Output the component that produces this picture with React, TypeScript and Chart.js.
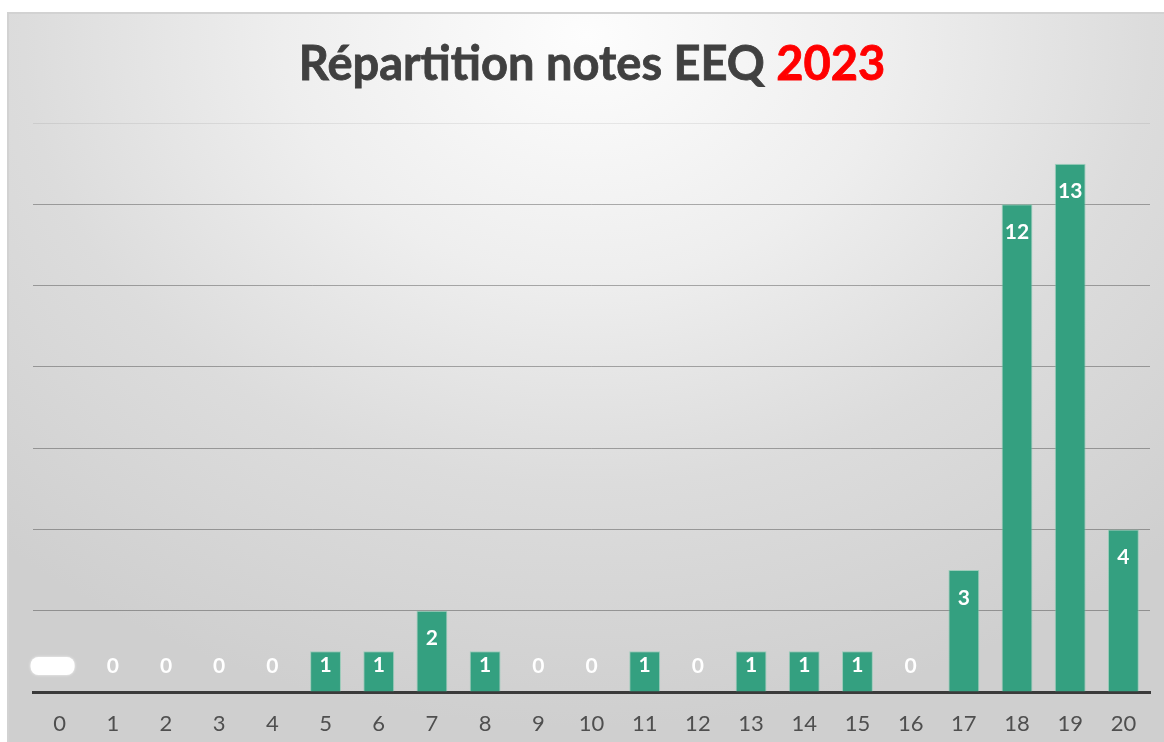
import React, { useEffect, useRef } from "react";
import { Chart, registerables } from "chart.js";

Chart.register(...registerables);

const notes: string[] = ["0","1","2","3","4","5","6","7","8","9","10","11","12","13","14","15","16","17","18","19","20"];
const effectifs: number[] = [0,0,0,0,0,1,1,2,1,0,0,1,0,1,1,1,0,3,12,13,4];
const titleMain = "Répartition notes EEQ ";
const titleYear = "2023";
const yMax = 14;
const yStep = 2;

const FONT = "Lato, 'Open Sans', sans-serif";

const titlePlugin = {
  id: "titleTwoColor",
  afterDraw(chart: any) {
    const ctx = chart.ctx;
    ctx.save();
    ctx.font = `bold 47px ${FONT}`;
    ctx.textBaseline = "alphabetic";
    ctx.textAlign = "left";
    const w1 = ctx.measureText(titleMain).width;
    const w2 = ctx.measureText(titleYear).width;
    const cx = 592;
    const x0 = cx - (w1 + w2) / 2;
    ctx.fillStyle = "#404040";
    ctx.strokeStyle = "#404040";
    ctx.lineWidth = 0.8;
    ctx.fillText(titleMain, x0, 80);
    ctx.strokeText(titleMain, x0, 80);
    ctx.fillStyle = "#ff0000";
    ctx.strokeStyle = "#ff0000";
    ctx.fillText(titleYear, x0 + w1, 80);
    ctx.strokeText(titleYear, x0 + w1, 80);
    ctx.restore();
  },
};

const labelPlugin = {
  id: "barLabels",
  afterDatasetsDraw(chart: any) {
    const ctx = chart.ctx;
    const meta = chart.getDatasetMeta(0);
    ctx.save();
    ctx.font = `bold 21px ${FONT}`;
    ctx.textAlign = "center";
    ctx.textBaseline = "middle";
    meta.data.forEach((bar: any, i: number) => {
      const v = effectifs[i];
      const y = Math.min(bar.y + 28, bar.base - 26);
      if (i === 0) {
        ctx.fillStyle = "#ffffff";
        ctx.shadowColor = "rgba(255,255,255,0.8)";
        ctx.shadowBlur = 3;
        const w = 44, h = 18, r = 8;
        const x = bar.x - 7 - w / 2;
        const yy = y - h / 2;
        ctx.beginPath();
        ctx.moveTo(x + r, yy);
        ctx.lineTo(x + w - r, yy);
        ctx.arcTo(x + w, yy, x + w, yy + r, r);
        ctx.lineTo(x + w, yy + h - r);
        ctx.arcTo(x + w, yy + h, x + w - r, yy + h, r);
        ctx.lineTo(x + r, yy + h);
        ctx.arcTo(x, yy + h, x, yy + h - r, r);
        ctx.lineTo(x, yy + r);
        ctx.arcTo(x, yy, x + r, yy, r);
        ctx.closePath();
        ctx.fill();
        ctx.shadowBlur = 0;
        return;
      }
      ctx.fillStyle = "#ffffff";
      ctx.fillText(String(v), bar.x, y);
    });
    ctx.restore();
  },
};

export default function App() {
  const ref = useRef<HTMLCanvasElement | null>(null);

  useEffect(() => {
    if (!ref.current) return;
    const chart = new Chart(ref.current, {
      type: "bar",
      data: {
        labels: notes,
        datasets: [
          {
            data: effectifs,
            backgroundColor: "#34a080",
            borderColor: "rgba(120,200,170,0.6)",
            borderWidth: 1,
            borderSkipped: "bottom",
            barPercentage: 0.58,
            categoryPercentage: 1,
          },
        ],
      },
      options: {
        animation: false,
        responsive: false,
        maintainAspectRatio: false,
        layout: { padding: { left: 33, right: 14, top: 123, bottom: 0 } },
        plugins: {
          legend: { display: false },
          title: { display: false },
          tooltip: { enabled: false },
        },
        scales: {
          x: {
            grid: { display: false },
            border: { display: true, color: "#3a3a3a", width: 3 },
            ticks: {
              color: "#4f4f4f",
              font: { family: FONT, size: 22 },
              padding: 11,
              maxRotation: 0,
              autoSkip: false,
            },
            afterFit(scale: any) {
              scale.height = 50;
            },
          },
          y: {
            min: 0,
            max: yMax,
            ticks: { display: false, stepSize: yStep },
            border: { display: false },
            grid: {
              drawTicks: false,
              lineWidth: 1,
              color: (c: any) =>
                c.tick && c.tick.value === yMax ? "rgba(0,0,0,0.07)" : "rgba(0,0,0,0.3)",
            },
            afterFit(scale: any) {
              scale.width = 0;
            },
          },
        },
      },
      plugins: [titlePlugin, labelPlugin],
    });
    return () => chart.destroy();
  }, []);

  return (
    <div
      style={{
        position: "fixed",
        left: 0,
        top: 0,
        width: 1164,
        height: 742,
        background: "#ffffff",
        overflow: "hidden",
      }}
    >
      <div
        style={{
          position: "absolute",
          left: 7,
          top: 12,
          width: 1157,
          height: 730,
          boxSizing: "border-box",
          borderTop: "2px solid #d2d2d2",
          borderLeft: "2px solid #d2d2d2",
          background:
            "radial-gradient(ellipse 75% 95% at 50% 3%, #fdfdfd 0%, #eeeeee 35%, #dcdcdc 65%, #cfcfcf 100%)",
        }}
      />
      <canvas
        ref={ref}
        width={1164}
        height={742}
        style={{ position: "absolute", left: 0, top: 0, width: 1164, height: 742 }}
      />
    </div>
  );
}
